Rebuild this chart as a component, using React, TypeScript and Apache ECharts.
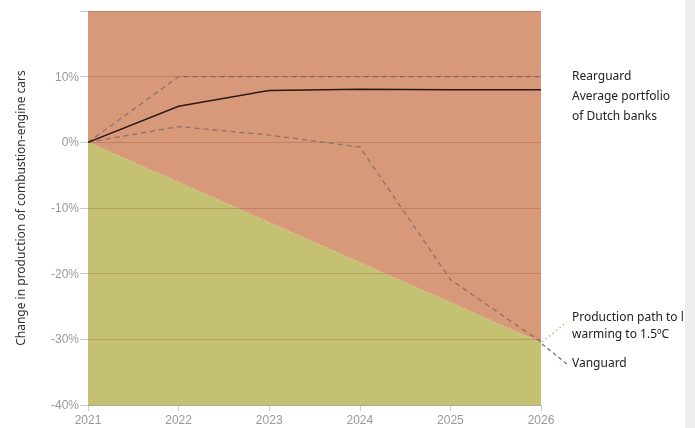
import React, { useEffect, useRef } from "react";
import * as echarts from "echarts";

const years = ["2021", "2022", "2023", "2024", "2025", "2026"];
const rearguard = [0, 10, 10, 10, 10, 10];
const averageDutchBanks = [0, 5.5, 7.9, 8.1, 8.0, 8.0];
const vanguard = [0, 2.4, 1.1, -0.7, -20.9, -30.4];
const productionPath15 = [0, -6.1, -12.2, -18.3, -24.4, -30.5];

export default function App() {
  const ref = useRef<HTMLDivElement>(null);
  useEffect(() => {
    const chart = echarts.init(ref.current!, null, { renderer: "svg" });
    const lbl = { fontFamily: "Noto Sans", fontSize: 12, fill: "#222" };
    chart.setOption({
      animation: false,
      grid: {
        left: 88,
        right: 154,
        top: 11,
        bottom: 23,
        show: true,
        backgroundColor: "#D8997A",
        borderWidth: 0,
      },
      xAxis: {
        type: "category",
        data: years,
        boundaryGap: false,
        axisLine: { onZero: false, lineStyle: { color: "#ccc" } },
        axisTick: { show: true, length: 6, lineStyle: { color: "#ccc" } },
        axisLabel: { color: "#999", fontFamily: "Liberation Sans", fontSize: 12, margin: 9 },
        splitLine: { show: false },
      },
      yAxis: {
        type: "value",
        min: -40,
        max: 20,
        interval: 10,
        z: 5,
        name: "Change in production of combustion-engine cars",
        nameLocation: "middle",
        nameGap: 62,
        nameTextStyle: { color: "#333", fontFamily: "Noto Sans", fontSize: 12 },
        axisLine: { show: false },
        axisTick: { show: true, length: 8, lineStyle: { color: "#ccc" } },
        axisLabel: {
          color: "#999",
          fontFamily: "Liberation Sans",
          fontSize: 12,
          margin: 9,
          formatter: (v: number) => (v === 20 ? "" : v + "%"),
        },
        splitLine: { show: true, lineStyle: { color: "rgba(110,50,20,0.22)", width: 1 } },
      },
      series: [
        {
          name: "Production path to limit warming to 1.5ºC",
          type: "line",
          data: productionPath15,
          symbol: "none",
          z: 1,
          lineStyle: { color: "#D2C98A", width: 1.5, type: "dotted" },
          areaStyle: { color: "#C5C173", opacity: 1, origin: "start" },
        },
        {
          name: "Rearguard",
          type: "line",
          data: rearguard,
          symbol: "none",
          z: 3,
          lineStyle: { color: "#8E7268", width: 1.3, type: [5, 4] },
        },
        {
          name: "Vanguard",
          type: "line",
          data: vanguard,
          symbol: "none",
          smooth: false,
          z: 3,
          lineStyle: { color: "#8E7268", width: 1.3, type: [5, 4] },
        },
        {
          name: "Average portfolio of Dutch banks",
          type: "line",
          data: averageDutchBanks,
          symbol: "none",
          z: 4,
          lineStyle: { color: "#2a1a14", width: 1.5 },
        },
      ],
      graphic: [
        { type: "text", left: 572, top: 69, style: { ...lbl, text: "Rearguard" } },
        { type: "text", left: 572, top: 89, style: { ...lbl, text: "Average portfolio" } },
        { type: "text", left: 572, top: 109, style: { ...lbl, text: "of Dutch banks" } },
        { type: "text", left: 572, top: 310, style: { ...lbl, text: "Production path to l" } },
        { type: "text", left: 572, top: 327, style: { ...lbl, text: "warming to 1.5ºC" } },
        { type: "text", left: 572, top: 356, style: { ...lbl, text: "Vanguard" } },
        {
          type: "line",
          shape: { x1: 542, y1: 342, x2: 567, y2: 322 },
          style: { stroke: "#C5BE6A", lineWidth: 1.5, lineDash: [1.5, 3] },
        },
        {
          type: "line",
          shape: { x1: 542, y1: 344, x2: 567, y2: 364 },
          style: { stroke: "#8E7268", lineWidth: 1.3, lineDash: [4, 3] },
        },
        {
          type: "rect",
          shape: { x: 685, y: 0, width: 10, height: 428 },
          style: { fill: "#EEEEEE" },
          z: 100,
        },
      ],
    });
    return () => chart.dispose();
  }, []);
  return (
    <div
      ref={ref}
      style={{ position: "fixed", left: 0, top: 0, width: 695, height: 428 }}
    />
  );
}
